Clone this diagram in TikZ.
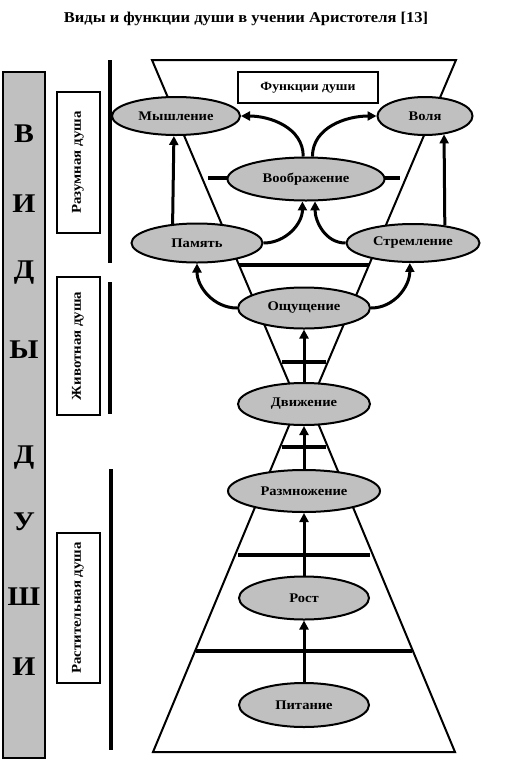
\documentclass[tikz,border=0pt]{standalone}
\usepackage{fontspec}
\setmainfont{Liberation Serif}[FakeStretch=1.1]
\usetikzlibrary{shapes.geometric,arrows.meta}
\definecolor{soulgray}{RGB}{192,192,192}

\begin{document}
\begin{tikzpicture}[x=1pt,y=1pt,
  func/.style={ellipse,draw,line width=2pt,fill=soulgray,inner sep=0pt,font=\bfseries\fontsize{13.2}{15}\selectfont},
  soul/.style={draw,line width=2pt,rotate=90,minimum height=43pt,inner sep=0pt,font=\bfseries\fontsize{13.5}{15}\selectfont},
  letter/.style={font=\bfseries\fontsize{27}{30}\selectfont},
  rim/.style={line width=2pt,line join=miter},
  sideline/.style={line width=3.2pt},
  arr/.style={-{Triangle[length=9pt,width=9pt]},line width=3pt}]
\useasboundingbox (0,0) rectangle (507,-764);
\node[font=\bfseries\fontsize{15}{18}\selectfont] (title) at (246,-19) {Виды и функции души в учении Аристотеля [13]};
\draw[rim] (152,-60) -- (456,-60) -- (310,-404) -- (455,-752) -- (153,-752) -- (298,-404) -- cycle;
\foreach \y/\a/\b in {178/208/400,265/239/369,362/282/326,447/282/326,555/238/370,651/196/412}
  \draw[sideline] (\a,-\y) -- (\b,-\y);
\node[draw,line width=2pt,fill=white,minimum width=140pt,minimum height=31pt,font=\bfseries\fontsize{12.5}{14}\selectfont] (fd) at (308,-87.5) {Функции души};
\node[func,minimum width=128pt,minimum height=38pt] (mys) at (176,-116) {Мышление};
\node[func,minimum width=95pt,minimum height=38pt] (vol) at (425,-116) {Воля};
\node[func,minimum width=157pt,minimum height=43pt] (vob) at (306,-179) {Воображение};
\node[func,minimum width=131pt,minimum height=39pt] (pam) at (197,-243) {Память};
\node[func,minimum width=133pt,minimum height=38pt] (str) at (413,-243) {Стремление};
\node[func,minimum width=132pt,minimum height=41pt] (osh) at (304,-308) {Ощущение};
\node[func,minimum width=132pt,minimum height=42pt] (dvi) at (304,-404) {Движение};
\node[func,minimum width=152pt,minimum height=42pt] (razm) at (304,-491) {Размножение};
\node[func,minimum width=130pt,minimum height=43pt] (rost) at (304,-598) {Рост};
\node[func,minimum width=130pt,minimum height=44pt] (pit) at (304,-705) {Питание};
\draw[arr] (pam.142) -- (mys.264);
\draw[arr] (str.29) -- (vol.-44);
\draw[arr] (vob.97) to[out=90,in=0] (mys.east);
\draw[arr] (vob.74) to[out=90,in=180] (vol.west);
\draw[arr] (pam.east) to[out=0,in=270] (vob.261);
\draw[arr] (str.west) to[out=180,in=270] (vob.292);
\draw[arr] (osh.west) to[out=180,in=270] (pam.south);
\draw[arr] (osh.east) to[out=0,in=270] (str.261);
\foreach \a/\b in {dvi/osh,razm/dvi,rost/razm,pit/rost} \draw[arr] (\a) -- (\b);
\draw[line width=2pt,fill=soulgray] (3,-72) rectangle (45,-758);
\foreach \l/\y in {В/134,И/204,Д/273,Ы/350,Д/458,У/522,Ш/597,И/667}
  \node[letter] (l\y) at (24,-\y) {\l};
\node[soul,minimum width=141pt] (rzd) at (78,-162.5) {Разумная душа};
\node[soul,minimum width=138pt] (zhd) at (78,-346) {Животная душа};
\node[soul,minimum width=150pt] (rsd) at (78,-608) {Растительная душа};
\draw[sideline] (110,-60) -- (110,-263);
\draw[sideline] (110,-282) -- (110,-414);
\draw[sideline] (111,-469) -- (111,-750);
\end{tikzpicture}
\end{document}
